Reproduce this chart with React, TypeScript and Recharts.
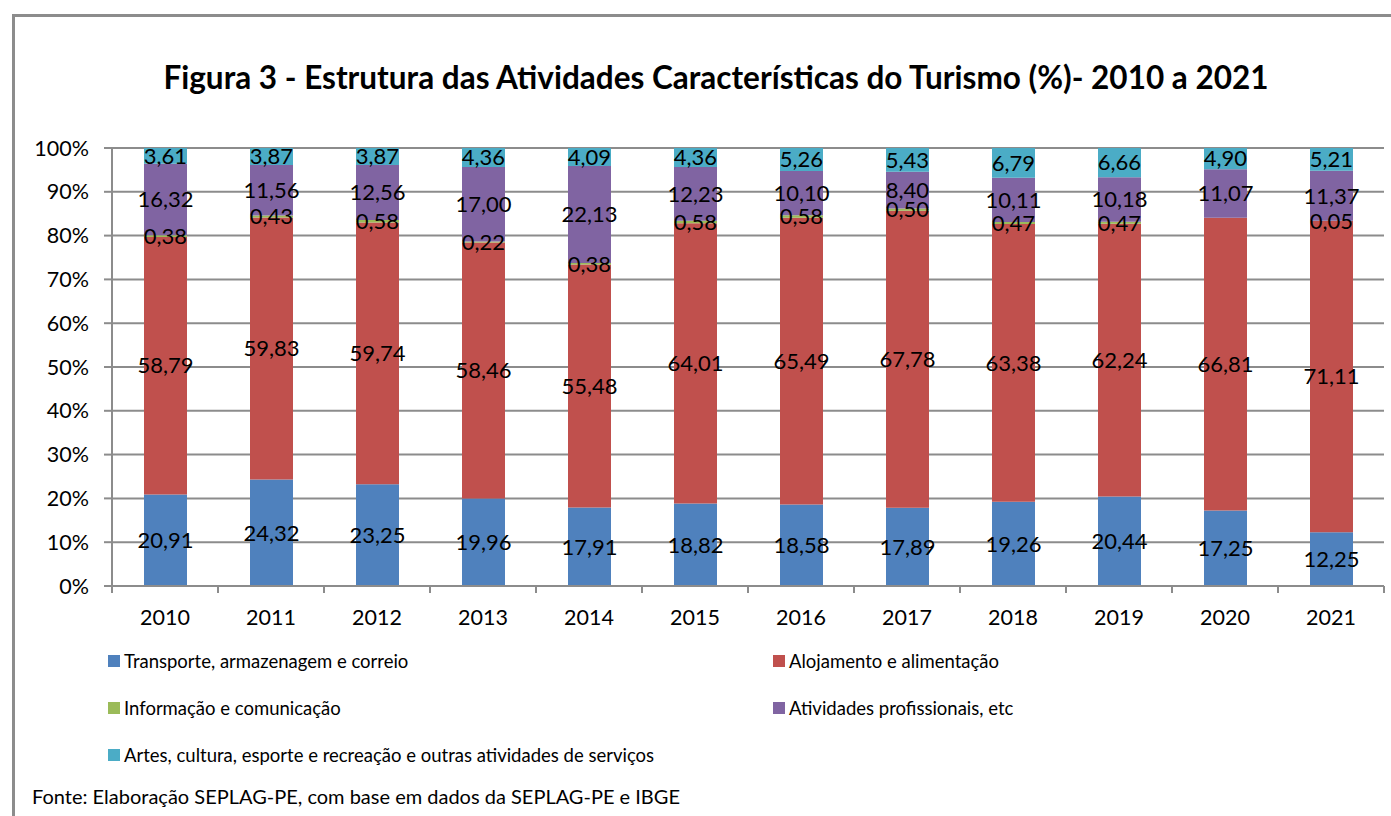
import { BarChart, Bar, XAxis, YAxis, CartesianGrid, LabelList } from "recharts";

const years = ["2010", "2011", "2012", "2013", "2014", "2015", "2016", "2017", "2018", "2019", "2020", "2021"];
const transporte = [20.91, 24.32, 23.25, 19.96, 17.91, 18.82, 18.58, 17.89, 19.26, 20.44, 17.25, 12.25];
const alojamento = [58.79, 59.83, 59.74, 58.46, 55.48, 64.01, 65.49, 67.78, 63.38, 62.24, 66.81, 71.11];
const informacao = [0.38, 0.43, 0.58, 0.22, 0.38, 0.58, 0.58, 0.5, 0.47, 0.47, null, 0.05];
const atividades = [16.32, 11.56, 12.56, 17.0, 22.13, 12.23, 10.1, 8.4, 10.11, 10.18, 11.07, 11.37];
const artes = [3.61, 3.87, 3.87, 4.36, 4.09, 4.36, 5.26, 5.43, 6.79, 6.66, 4.9, 5.21];
const yTicks = [0, 10, 20, 30, 40, 50, 60, 70, 80, 90, 100];

const series = [
  { key: "transporte", name: "Transporte, armazenagem e correio", color: "#4F81BD" },
  { key: "alojamento", name: "Alojamento e alimentação", color: "#C0504D" },
  { key: "informacao", name: "Informação e comunicação", color: "#9BBB59" },
  { key: "atividades", name: "Atividades profissionais, etc", color: "#8064A2" },
  { key: "artes", name: "Artes, cultura, esporte e recreação e outras atividades de serviços", color: "#4BACC6" },
];

const data = years.map((year, i) => ({
  year,
  transporte: transporte[i],
  alojamento: alojamento[i],
  informacao: informacao[i],
  atividades: atividades[i],
  artes: artes[i],
}));

const FONT = "Lato, 'Open Sans', sans-serif";
const GRID = "#8c8c8c";

const fmt = (v: any) => (v == null ? "" : Number(v).toFixed(2).replace(".", ","));

// Excel-style ticks: marks sit between categories, label in the middle
const XTick = (props: any) => {
  const { x, y, payload, index, visibleTicksCount } = props;
  const half = payload.offset || 53;
  const top = y - 24;
  return (
    <g>
      <line x1={x - half} x2={x - half} y1={top} y2={top + 7} stroke={GRID} strokeWidth={2} />
      {index === visibleTicksCount - 1 && (
        <line x1={x + half} x2={x + half} y1={top} y2={top + 7} stroke={GRID} strokeWidth={2} />
      )}
      <text x={x} y={y} dy="0.71em" textAnchor="middle" fontSize={21.5} fill="#000">
        {payload.value}
      </text>
    </g>
  );
};

export default function App() {
  return (
    <div style={{ position: "absolute", left: 0, top: 0, width: 1391, height: 816, overflow: "hidden", background: "#fff", fontFamily: FONT }}>
      <div style={{ position: "absolute", left: 12, top: 14, width: 1400, height: 830, border: `3px solid ${GRID}`, boxSizing: "border-box" }} />
      <div style={{ position: "absolute", left: 0, width: 1432, top: 58, textAlign: "center", fontSize: 31.5, fontWeight: 700, color: "#000", whiteSpace: "nowrap" }}>
        Figura 3 - Estrutura das Atividades Características do Turismo (%)- 2010 a 2021
      </div>
      <div style={{ position: "absolute", left: 0, top: 0 }}>
        <BarChart
          width={1391}
          height={640}
          data={data}
          margin={{ top: 148, right: 7, left: 0, bottom: 14 }}
          barSize={43}
          style={{ fontFamily: FONT }}
        >
          <CartesianGrid vertical={false} stroke={GRID} strokeWidth={2} />
          <XAxis
            dataKey="year"
            height={40}
            axisLine={{ stroke: GRID, strokeWidth: 2 }}
            tickLine={false}
            tickSize={6}
            tickMargin={18}
            interval={0}
            tick={<XTick />}
          />
          <YAxis
            width={112}
            domain={[0, 100]}
            ticks={yTicks}
            allowDataOverflow
            axisLine={{ stroke: GRID, strokeWidth: 2 }}
            tickLine={{ stroke: GRID, strokeWidth: 2 }}
            tickSize={8}
            tickMargin={15}
            tickFormatter={(v) => `${v}%`}
            tick={{ fontSize: 21.5, fill: "#000" }}
          />
          {series.map((s) => (
            <Bar key={s.key} dataKey={s.key} name={s.name} stackId="a" fill={s.color} isAnimationActive={false}>
              <LabelList dataKey={s.key} position="center" formatter={fmt} fontSize={22} fill="#000" />
            </Bar>
          ))}
        </BarChart>
      </div>
      {series.map((s, i) => (
        <div
          key={s.key}
          style={{
            position: "absolute",
            left: i % 2 === 0 ? 108 : 773,
            top: 650 + Math.floor(i / 2) * 47,
            display: "flex",
            alignItems: "center",
            fontSize: 18.5,
            color: "#000",
            whiteSpace: "nowrap",
          }}
        >
          <span style={{ display: "inline-block", width: 12, height: 12, background: s.color, marginRight: 4 }} />
          {s.name}
        </div>
      ))}
      <div style={{ position: "absolute", left: 32, top: 784, fontSize: 20, color: "#000", whiteSpace: "nowrap" }}>
        Fonte: Elaboração SEPLAG-PE, com base em dados da SEPLAG-PE e IBGE
      </div>
    </div>
  );
}
